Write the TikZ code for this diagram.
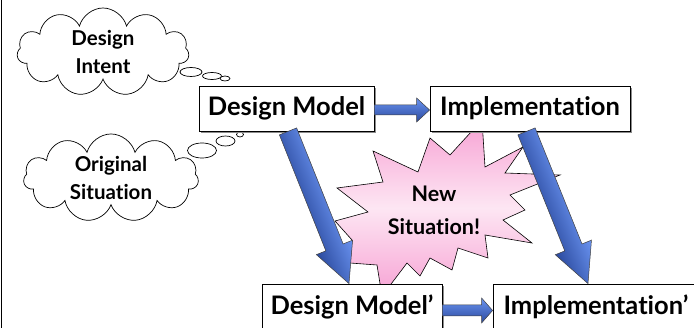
\documentclass[tikz,border=0pt]{standalone}
\usepackage{fontspec}
\setmainfont{Lato}[Ligatures={TeX,NoCommon}]
\usetikzlibrary{calc,shapes.symbols,shadows}

\definecolor{arrowdark}{HTML}{2B4A9E}
\definecolor{arrowlight}{HTML}{6A93F0}
\definecolor{burstpink}{HTML}{F7A2D4}
\definecolor{burstlight}{HTML}{FDE6F3}

\tikzset{
  modelbox/.style={draw=black, line width=0.8pt, fill=white, minimum height=45pt,
    inner sep=0pt, font=\fontsize{25.5}{28}\selectfont\bfseries,
    drop shadow={shadow xshift=1.6pt, shadow yshift=-1.6pt, fill=black!45, opacity=1}},
  thought/.style={cloud, draw, cloud puffs=11, aspect=2.2, line width=0.7pt,
    inner sep=0pt, align=center, font=\fontsize{20.5}{28}\selectfont\bfseries},
  bubble/.style={draw, line width=0.7pt, fill=white},
  burst/.style={draw, line width=0.6pt, top color=burstpink, bottom color=burstpink,
    middle color=burstlight},
  fat/.style={draw=black!75, line width=0.5pt, top color=arrowlight, bottom color=arrowdark},
}

% block arrow from coordinate #1 to coordinate #2:
% #3 shaft half width, #4 head length, #5 head half width;
% drawn in its own rotated frame so the shading runs across the shaft
\newcommand\fatarrow[5]{%
  \path let \p1=($(#2)-(#1)$), \n1={atan2(\y1,\x1)}, \n2={veclen(\x1,\y1)} in
    \pgfextra{\pgfmathsetmacro\tmpang{\n1}\global\let\faangle\tmpang
              \pgfmathsetmacro\tmplen{\n2}\global\let\falength\tmplen};
  \begin{scope}[shift={(#1)}, rotate=\faangle]
    \pgflowlevelsynccm
    \shade[fat] (0,-#3) -- ({\falength-#4},-#3) -- ({\falength-#4},-#5) -- (\falength,0)
      -- ({\falength-#4},#5) -- ({\falength-#4},#3) -- (0,#3) -- cycle;
  \end{scope}}

\begin{document}
\begin{tikzpicture}[x=1pt,y=-1pt]
\useasboundingbox (0,0) rectangle (694,328);
\clip (0,0) rectangle (694,328);

% frame rule on the left
\draw[line width=1.4pt] (1.5,0) -- (1.5,328);

% thought clouds
\node[thought, minimum width=172pt, minimum height=74pt] (intent) at (103,52) {Design\\Intent};
\draw[bubble] (191,72) ellipse (11 and 4.5);
\draw[bubble] (212,76) ellipse (9.5 and 3.5);
\draw[bubble] (225,78.5) ellipse (5 and 2.5);

\node[thought, minimum width=175pt, minimum height=76pt] (orig) at (111,178) {Original\\Situation};
\draw[bubble] (202,150.5) ellipse (14.5 and 7.5);
\draw[bubble] (225.5,141) ellipse (9.5 and 5);
\draw[bubble] (240,134.5) ellipse (3.5 and 2.5);

% explosion
\shade[burst] (373,151) -- (418,172) -- (430,138) -- (450,155) -- (482,120) -- (485,167)
  -- (523,147) -- (505,173) -- (560,175) -- (510,195) -- (525,210) -- (503,220)
  -- (532,243) -- (485,235) -- (488,258) -- (458,248) -- (452,270) -- (430,258)
  -- (420,276) -- (407,263) -- (382,296) -- (377,265) -- (350,263) -- (352,240)
  -- (335,221) -- (368,212) -- (337,188) -- (383,182) -- cycle;
\node[font=\fontsize{21.5}{33}\selectfont\bfseries, align=center] (newsit) at (434,210) {New\\Situation!};

% model boxes
\node[modelbox, minimum width=175pt] (dm)  at (286.5,108.5) {Design Model};
\node[modelbox, minimum width=200pt] (im)  at (530,108.5)   {Implementation};
\node[modelbox, minimum width=180pt] (dm2) at (352,306.5)   {Design Model’};
\node[modelbox, minimum width=206pt] (im2) at (596,306.5)   {Implementation’};

% arrow ends
\coordinate (dmout)  at ([xshift=1.5pt]dm.south);
\coordinate (dm2in)  at ([xshift=-3pt]dm2.north);
\coordinate (imout)  at ([xshift=-3.5pt]im.south);
\coordinate (im2in)  at ([xshift=-8pt]im2.north);
\coordinate (dmright) at ([yshift=-1.5pt]dm.east);
\coordinate (imleft)  at ([yshift=-1.5pt]im.west);
\coordinate (dm2right) at ([yshift=-4pt]dm2.east);
\coordinate (im2left)  at ([yshift=-4pt]im2.west);

\fatarrow{dmout}{dm2in}{9.3}{39}{19.5}
\fatarrow{imout}{im2in}{9.3}{39}{19.5}
\fatarrow{dmright}{imleft}{5}{13}{12}
\fatarrow{dm2right}{im2left}{5.5}{11}{12.5}
\end{tikzpicture}
\end{document}
